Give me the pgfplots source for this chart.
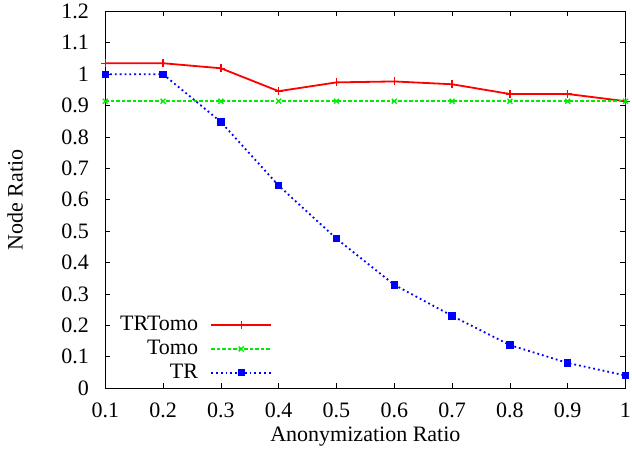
\documentclass[border=0pt]{standalone}
\usepackage{fontspec}
\setmainfont{Liberation Serif}
\usepackage{pgfplots}
\pgfplotsset{compat=1.18}
\definecolor{gpgreen}{RGB}{0,235,0}

\begin{document}
\fontsize{22}{26}\selectfont
\begin{tikzpicture}
\begin{axis}[
  scale only axis,
  width=518bp, height=375bp,
  xmin=0.1, xmax=1, ymin=0, ymax=1.2,
  xtick={0.1,0.2,...,1.0},
  ytick={0,0.1,...,1.2},
  xticklabels={0.1,0.2,0.3,0.4,0.5,0.6,0.7,0.8,0.9,1},
  yticklabels={0,0.1,0.2,0.3,0.4,0.5,0.6,0.7,0.8,0.9,1,1.1,1.2},
  tick align=inside,
  major tick length=5bp,
  tick style={black, line width=0.7bp},
  axis line style={black, line width=1bp},
  tick label style={font=\fontsize{22}{26}\selectfont, inner sep=1bp},
  label style={font=\fontsize{22}{26}\selectfont},
  xticklabel style={yshift=-14bp},
  yticklabel style={xshift=-15bp, inner ysep=4bp},
  xlabel={Anonymization Ratio},
  ylabel={Node Ratio},
  xlabel style={yshift=0bp},
  ylabel style={yshift=30bp},
  legend plot pos=right,
  legend cell align=right,
  legend image code/.code={\draw[mark repeat=2,mark phase=2] plot coordinates {(0bp,0bp)(30bp,0bp)(60bp,0bp)};},
  legend style={draw=none, fill=none, at={(axis description cs:0.173,0.104)}, anchor=center,
    font=\fontsize{22}{26}\selectfont, row sep=2bp, column sep=10bp, cells={anchor=east}},
]
\addplot[red, line width=1.8bp, mark=+, mark size=4bp, mark options={solid, red, line width=1.3bp}] coordinates {
  (0.1,1.035) (0.2,1.035) (0.3,1.019) (0.4,0.946) (0.5,0.974)
  (0.6,0.977) (0.7,0.968) (0.8,0.937) (0.9,0.937) (1.0,0.914)};
\addplot[gpgreen, line width=1.9bp, dash pattern=on 3.5bp off 2bp, mark=x, mark size=3.5bp, mark options={solid, gpgreen, line width=1.3bp}] coordinates {
  (0.1,0.914) (0.2,0.914) (0.3,0.914) (0.4,0.914) (0.5,0.914)
  (0.6,0.914) (0.7,0.914) (0.8,0.914) (0.9,0.914) (1.0,0.914)};
\addplot[blue, line width=1.8bp, dash pattern=on 1.8bp off 3bp, mark=square*, mark size=2.8bp, mark options={solid, blue}] coordinates {
  (0.1,1.0) (0.2,1.0) (0.3,0.848) (0.4,0.645) (0.5,0.476)
  (0.6,0.329) (0.7,0.230) (0.8,0.137) (0.9,0.080) (1.0,0.040)};
\legend{TRTomo, Tomo, TR}
\end{axis}
\end{tikzpicture}
\end{document}
